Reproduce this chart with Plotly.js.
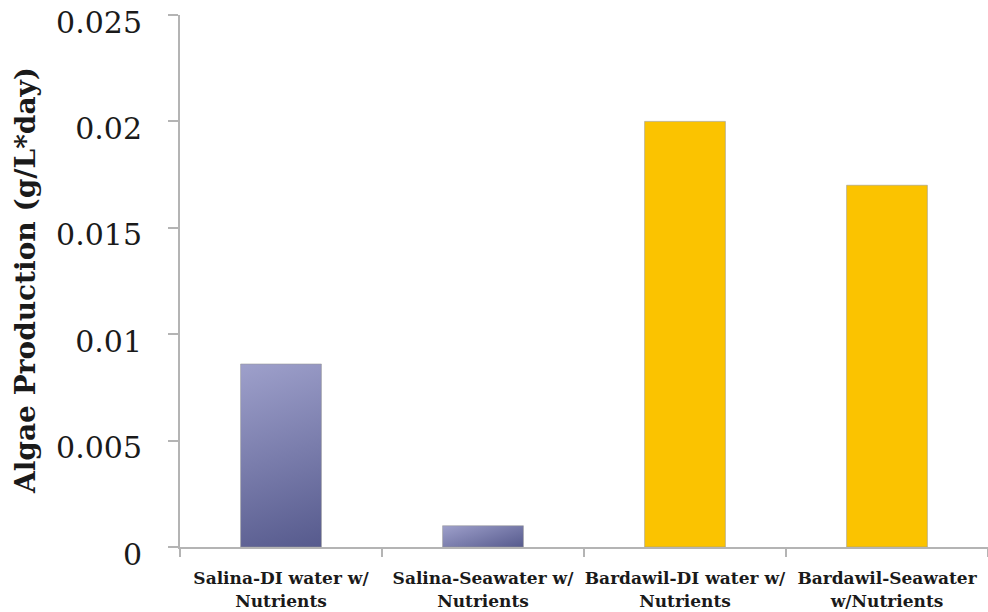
<!DOCTYPE html>
<html>
<head>
<meta charset="utf-8">
<script src="https://cdn.plot.ly/plotly-3.0.1.min.js"></script>
<style>
  html, body { margin: 0; padding: 0; background: #ffffff; }
  #chart { width: 988px; height: 612px; }
</style>
</head>
<body>
<div id="chart"></div>
<script>
// Algae production per culture condition
const categories = [
  "Salina-DI water w/<br>Nutrients",
  "Salina-Seawater w/<br>Nutrients",
  "Bardawil-DI water w/<br>Nutrients",
  "Bardawil-Seawater<br>w/Nutrients"
];
const production = [0.0086, 0.001, 0.02, 0.017];
const barColors = ["#7b7eae", "#7b7eae", "#fbc300", "#fbc300"];
const yTickVals = [0, 0.005, 0.01, 0.015, 0.02, 0.025];
const yTickText = ["0", "0.005", "0.01", "0.015", "0.02", "0.025"];
const yTitle = "Algae Production (g/L*day)";

// Shaded fill used for the Salina bars (light top-left, dark bottom-right)
const salinaShade = { light: "#9ea0cb", dark: "#565a8d" };

const axisGrey = "#b4b4b4";
const serif = "DejaVu Serif, Georgia, serif";

const trace = {
  type: "bar",
  x: categories,
  y: production,
  marker: {
    color: barColors,
    line: { color: "rgba(150,150,150,0.55)", width: 1 }
  },
  hoverinfo: "skip"
};

const layout = {
  width: 988,
  height: 612,
  margin: { l: 180, r: 0, t: 15, b: 65 },
  paper_bgcolor: "#ffffff",
  plot_bgcolor: "#ffffff",
  showlegend: false,
  bargap: 0.6,
  xaxis: {
    type: "category",
    range: [-0.5, 3.5],
    showline: true,
    linecolor: axisGrey,
    linewidth: 2,
    ticks: "outside",
    tickson: "boundaries",
    ticklen: 8,
    tickwidth: 2,
    tickcolor: axisGrey,
    tickangle: 0,
    ticklabelstandoff: 15,
    showgrid: false,
    zeroline: false,
    tickfont: { family: serif, size: 17, color: "#1a1a1a", weight: "bold" }
  },
  yaxis: {
    range: [0, 0.0250001],
    tickvals: yTickVals,
    ticktext: yTickText,
    showline: true,
    linecolor: axisGrey,
    linewidth: 2,
    ticks: "outside",
    ticklen: 10,
    tickwidth: 2,
    tickcolor: axisGrey,
    ticklabelstandoff: 20,
    ticklabeloverflow: "allow",
    showgrid: false,
    zeroline: false,
    tickfont: { family: serif, size: 30, color: "#1a1a1a" }
  },
  annotations: [{
    text: yTitle,
    textangle: -90,
    xref: "paper", yref: "paper",
    x: 0, y: 0.5,
    xanchor: "center", yanchor: "middle",
    xshift: -155,
    showarrow: false,
    font: { family: serif, size: 28, color: "#1a1a1a", weight: "bold" }
  }]
};

Plotly.newPlot("chart", [trace], layout, { displayModeBar: false, staticPlot: true }).then(function (gd) {
  // Drop the value labels a little so the numerals sit just below their ticks
  gd.querySelectorAll(".ytick text").forEach(function (t) {
    t.setAttribute("transform", (t.getAttribute("transform") || "") + " translate(0,7)");
  });

  // Apply an angled linear gradient to the Salina bars, sized to each bar's box
  const svg = gd.querySelector(".main-svg");
  const ns = "http://www.w3.org/2000/svg";
  let defs = svg.querySelector("defs");
  if (!defs) { defs = document.createElementNS(ns, "defs"); svg.insertBefore(defs, svg.firstChild); }
  const paths = gd.querySelectorAll(".barlayer .point path");
  const angle = 72 * Math.PI / 180;
  const dx = Math.cos(angle), dy = Math.sin(angle);
  [0, 1].forEach(function (i) {
    const p = paths[i];
    if (!p) return;
    const b = p.getBBox();
    const cx = b.x + b.width / 2, cy = b.y + b.height / 2;
    const half = (b.width * dx + b.height * dy) / 2;
    const g = document.createElementNS(ns, "linearGradient");
    g.setAttribute("id", "salinaShade" + i);
    g.setAttribute("gradientUnits", "userSpaceOnUse");
    g.setAttribute("x1", cx - half * dx);
    g.setAttribute("y1", cy - half * dy);
    g.setAttribute("x2", cx + half * dx);
    g.setAttribute("y2", cy + half * dy);
    [[0, salinaShade.light], [1, salinaShade.dark]].forEach(function (s) {
      const st = document.createElementNS(ns, "stop");
      st.setAttribute("offset", s[0]);
      st.setAttribute("stop-color", s[1]);
      g.appendChild(st);
    });
    defs.appendChild(g);
    p.style.fill = "url(#salinaShade" + i + ")";
  });
});
</script>
</body>
</html>
